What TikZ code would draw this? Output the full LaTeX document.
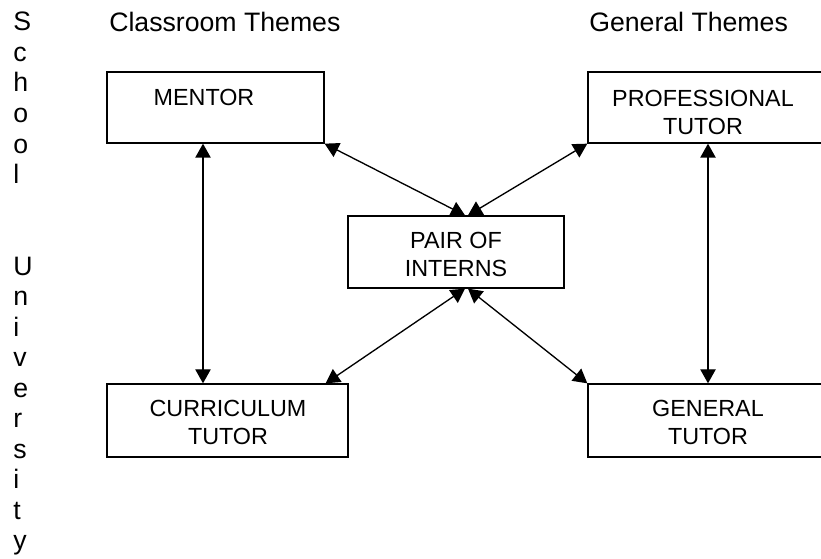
\documentclass[tikz,border=0pt]{standalone}
\usepackage{fontspec}
\setmainfont{Liberation Sans}
\usetikzlibrary{arrows.meta,calc}
\begin{document}
\begin{tikzpicture}[x=0.75pt,y=-0.75pt,
  box/.style={draw=black,line width=1pt,rectangle,inner sep=0pt,fill=none},
  boxtext/.style={inner sep=0pt,align=center,anchor=north,font=\fontsize{17.5}{21}\selectfont},
  title/.style={inner sep=0pt,anchor=base west,font=\fontsize{20}{24}\selectfont},
  link/.style={line width=1pt,{Triangle[length=10.5pt,width=11.5pt]}-{Triangle[length=10.5pt,width=11.5pt]}}]
\useasboundingbox (0,0) rectangle (821,559);
\clip (0,0) rectangle (821,559);
% side text
\node[inner sep=0pt,anchor=north west,align=left,font=\fontsize{20}{22.9}\selectfont] (side) at (13,12)
  {S\\c\\h\\o\\o\\l\\ \\ \\U\\n\\i\\v\\e\\r\\s\\i\\t\\y};
% titles
\node[title] (t1) at (109,32) {Classroom Themes};
\node[title] (t2) at (589,32) {General Themes};
% boxes
\node[box,minimum width=162.75pt,minimum height=53.25pt] (mentor) at (215.5,107.5) {};
\node[box,minimum width=180pt,minimum height=53.25pt] (prof) at (708,107.5) {};
\node[box,minimum width=162pt,minimum height=54pt] (pair) at (456,252) {};
\node[box,minimum width=180.75pt,minimum height=54.75pt] (curr) at (227.5,420.5) {};
\node[box,minimum width=180pt,minimum height=54.75pt] (gen) at (708,420.5) {};
% box texts
\node[boxtext] (mentorT) at (204,88.5) {MENTOR};
\node[boxtext] (profT) at (703,90) {PROFESSIONAL\\TUTOR};
\node[boxtext] (pairT) at (456,231.5) {PAIR OF\\INTERNS};
\node[boxtext] (currT) at (228,400) {CURRICULUM\\TUTOR};
\node[boxtext] (genT) at (708,400) {GENERAL\\TUTOR};
% connectors
\draw[link] ($(mentor.south)+(-12.5,0)$) coordinate (m1) -- (m1 |- curr.north);
\draw[link] (prof.south) -- (gen.north);
\draw[link] (mentor.south east) -- ($(pair.north)+(9,0)$);
\draw[link] (prof.south west) -- ($(pair.north)+(12,0)$);
\draw[link] ($(pair.south)+(9,0)$) -- ($(curr.north east)+(-23,0)$);
\draw[link] ($(pair.south)+(12,0)$) -- (gen.north west);
\end{tikzpicture}
\end{document}
